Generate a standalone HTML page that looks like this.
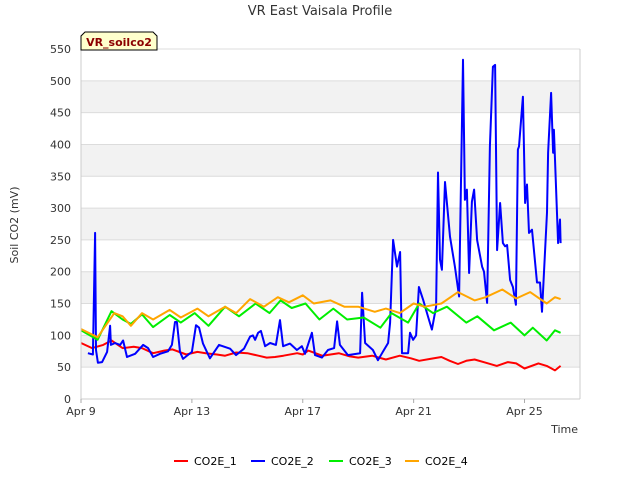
<!DOCTYPE html>
<html><head><meta charset="utf-8"><style>
body{margin:0;background:#fff;font-family:"DejaVu Sans","Liberation Sans",sans-serif;}
svg text{font-family:"DejaVu Sans","Liberation Sans",sans-serif;}
</style></head><body>
<svg id="chart" width="640" height="480" xmlns="http://www.w3.org/2000/svg">
<text x="320" y="15" text-anchor="middle" font-size="13" fill="#333">VR East Vaisala Profile</text>
<g id="grid"></g>
<g id="series"></g>
<g id="axes"></g>
<text transform="translate(18,225) rotate(-90)" text-anchor="middle" font-size="11" fill="#333">Soil CO2 (mV)</text>
<text x="578" y="433" text-anchor="end" font-size="11" fill="#333">Time</text>
<g>
<path d="M81,50 L81,36 L85,32 L153,32 L157,36 L157,50 Z" fill="#ffffcc" stroke="#000" stroke-width="1"/>
<text x="119" y="46" text-anchor="middle" font-size="11" font-weight="bold" fill="#8b0000">VR_soilco2</text>
</g>
<g id="legend"></g>
</svg>
<script>
const yTicks=[0,50,100,150,200,250,300,350,400,450,500,550];
const xTickDays=[0,4,8,12,16];
const xTickLabels=["Apr 9","Apr 13","Apr 17","Apr 21","Apr 25"];
const seriesNames=["CO2E_1","CO2E_2","CO2E_3","CO2E_4"];
const seriesColors=["#ff0000","#0000ff","#00ee00","#ffa500"];
const redDays=[0,0.4,0.8,1.1,1.5,1.9,2.2,2.6,3.0,3.3,3.8,4.2,4.5,4.9,5.2,5.6,6.0,6.4,6.7,7.0,7.3,7.8,8.0,8.2,8.7,9.3,9.7,10,10.5,11,11.5,11.9,12.2,12.6,13,13.3,13.6,13.9,14.2,14.6,15,15.4,15.7,16,16.5,16.8,17.1,17.3];
const redVals=[88,80,85,92,80,82,80,72,76,78,70,74,72,70,68,73,72,68,65,66,68,72,70,76,68,72,67,65,68,62,68,64,60,63,66,60,55,60,62,57,52,58,56,48,56,52,45,52];
const blueDays=[0.25,0.43,0.51,0.54,0.61,0.76,0.94,1.05,1.08,1.23,1.41,1.52,1.66,1.95,2.24,2.42,2.6,2.85,3.14,3.28,3.39,3.46,3.57,3.68,4.0,4.15,4.26,4.4,4.65,4.98,5.38,5.59,5.88,6.1,6.2,6.28,6.39,6.49,6.64,6.82,7.03,7.18,7.29,7.54,7.79,7.97,8.08,8.33,8.44,8.69,8.91,9.13,9.24,9.34,9.63,10.07,10.14,10.25,10.53,10.71,11.08,11.15,11.26,11.4,11.51,11.58,11.8,11.87,11.98,12.09,12.19,12.34,12.52,12.66,12.81,12.88,12.95,13.02,13.13,13.31,13.49,13.64,13.78,13.85,13.92,14.0,14.1,14.18,14.29,14.47,14.54,14.65,14.75,14.86,14.94,15.01,15.12,15.22,15.3,15.37,15.48,15.58,15.69,15.76,15.8,15.94,16.02,16.09,16.16,16.27,16.45,16.56,16.63,16.81,16.85,16.96,17.03,17.06,17.21,17.28,17.3];
const blueVals=[72,70,261,77,57,58,74,115,85,88,85,92,66,71,85,80,66,71,75,85,121,121,74,63,74,116,112,87,64,85,79,69,79,98,100,93,104,107,83,88,85,124,83,87,77,83,71,104,69,65,77,80,122,85,69,72,167,88,77,61,88,120,250,208,231,72,72,104,93,100,176,156,129,109,145,356,219,203,341,255,208,161,533,313,329,198,310,329,250,208,200,151,397,522,525,234,308,245,240,242,187,176,148,392,397,475,308,337,261,266,183,183,137,293,387,481,387,423,245,282,245];
const greenDays=[0,0.6,1.1,1.5,1.8,2.2,2.6,3.2,3.6,4.1,4.6,5.2,5.7,6.3,6.8,7.2,7.6,8.1,8.6,9.1,9.6,10.2,10.8,11.2,11.8,12.2,12.7,13.2,13.9,14.3,14.9,15.5,16.0,16.3,16.8,17.1,17.3];
const greenVals=[108,93,138,125,118,133,113,132,120,135,115,145,130,150,135,155,143,150,125,142,125,128,112,135,120,150,135,145,120,130,108,120,100,112,92,108,104];
const orangeDays=[0,0.6,1.2,1.5,1.8,2.2,2.6,3.2,3.6,4.2,4.6,5.2,5.6,6.1,6.6,7.1,7.5,8.0,8.4,9.0,9.5,10.0,10.6,11.0,11.5,12.0,12.4,13.0,13.6,14.2,14.6,15.2,15.7,16.2,16.8,17.1,17.3];
const orangeVals=[110,97,135,130,115,135,125,140,128,142,130,145,135,157,145,160,152,163,150,155,145,145,137,142,135,150,145,150,168,155,160,172,158,168,150,160,157];
const allDays=[redDays,blueDays,greenDays,orangeDays];
const allVals=[redVals,blueVals,greenVals,orangeVals];

const X0=81,X1=580,Y0=399,Y1=49;
const xs=d=>X0+d*27.72;
const ys=v=>Y0-(v/550)*(Y0-Y1);
const NS="http://www.w3.org/2000/svg";
function mk(tag,attrs,parent){const e=document.createElementNS(NS,tag);for(const k in attrs)e.setAttribute(k,attrs[k]);parent.appendChild(e);return e;}
const grid=document.getElementById('grid'),axes=document.getElementById('axes'),ser=document.getElementById('series'),leg=document.getElementById('legend');
for(let i=1;i+1<yTicks.length;i+=2){
  const r=mk('rect',{x:X0,y:ys(yTicks[i+1]),width:X1-X0,height:ys(yTicks[i])-ys(yTicks[i+1]),fill:'#f2f2f2'},grid);
  
  
}
yTicks.forEach(v=>{
  const l=mk('line',{x1:X0,x2:X1,y1:ys(v),y2:ys(v),stroke:'#dcdcdc','stroke-width':1},grid);
  
  
  const t=mk('text',{x:X0-10,y:ys(v)+4,'text-anchor':'end','font-size':11,fill:'#333'},axes);
  t.textContent=v;
  
  
});
mk('line',{x1:X0,x2:X0,y1:Y1,y2:Y0,stroke:'#ccc'},axes);
mk('line',{x1:X1,x2:X1,y1:Y1,y2:Y0,stroke:'#ccc'},axes);
mk('line',{x1:X0,x2:X1,y1:Y0,y2:Y0,stroke:'#ccc'},axes);
xTickDays.forEach((d,i)=>{
  mk('line',{x1:xs(d),x2:xs(d),y1:Y0,y2:Y0+4,stroke:'#aaa'},axes);
  const t=mk('text',{x:xs(d),y:Y0+16,'text-anchor':'middle','font-size':11,fill:'#333'},axes);
  t.textContent=xTickLabels[i];
  
  
});
[0,1,2,3].forEach(s=>{
  const n=Math.min(allDays[s].length,allVals[s].length);
  const pts=[];
  for(let i=0;i<n;i++)pts.push(xs(allDays[s][i]).toFixed(1)+','+ys(allVals[s][i]).toFixed(1));
  const p=mk('polyline',{points:pts.join(' '),fill:'none',stroke:seriesColors[s],'stroke-width':2,'stroke-linejoin':'round'},ser);
  
  
});
const lx=[174,251,329,405];
seriesNames.forEach((n,i)=>{
  const g=mk('g',{},leg);
  
  
  mk('line',{x1:lx[i],x2:lx[i]+14,y1:461,y2:461,stroke:seriesColors[i],'stroke-width':2},g);
  const t=mk('text',{x:lx[i]+20,y:465,'font-size':11,fill:'#000'},g);
  t.textContent=n;
});
</script>
</body></html>
